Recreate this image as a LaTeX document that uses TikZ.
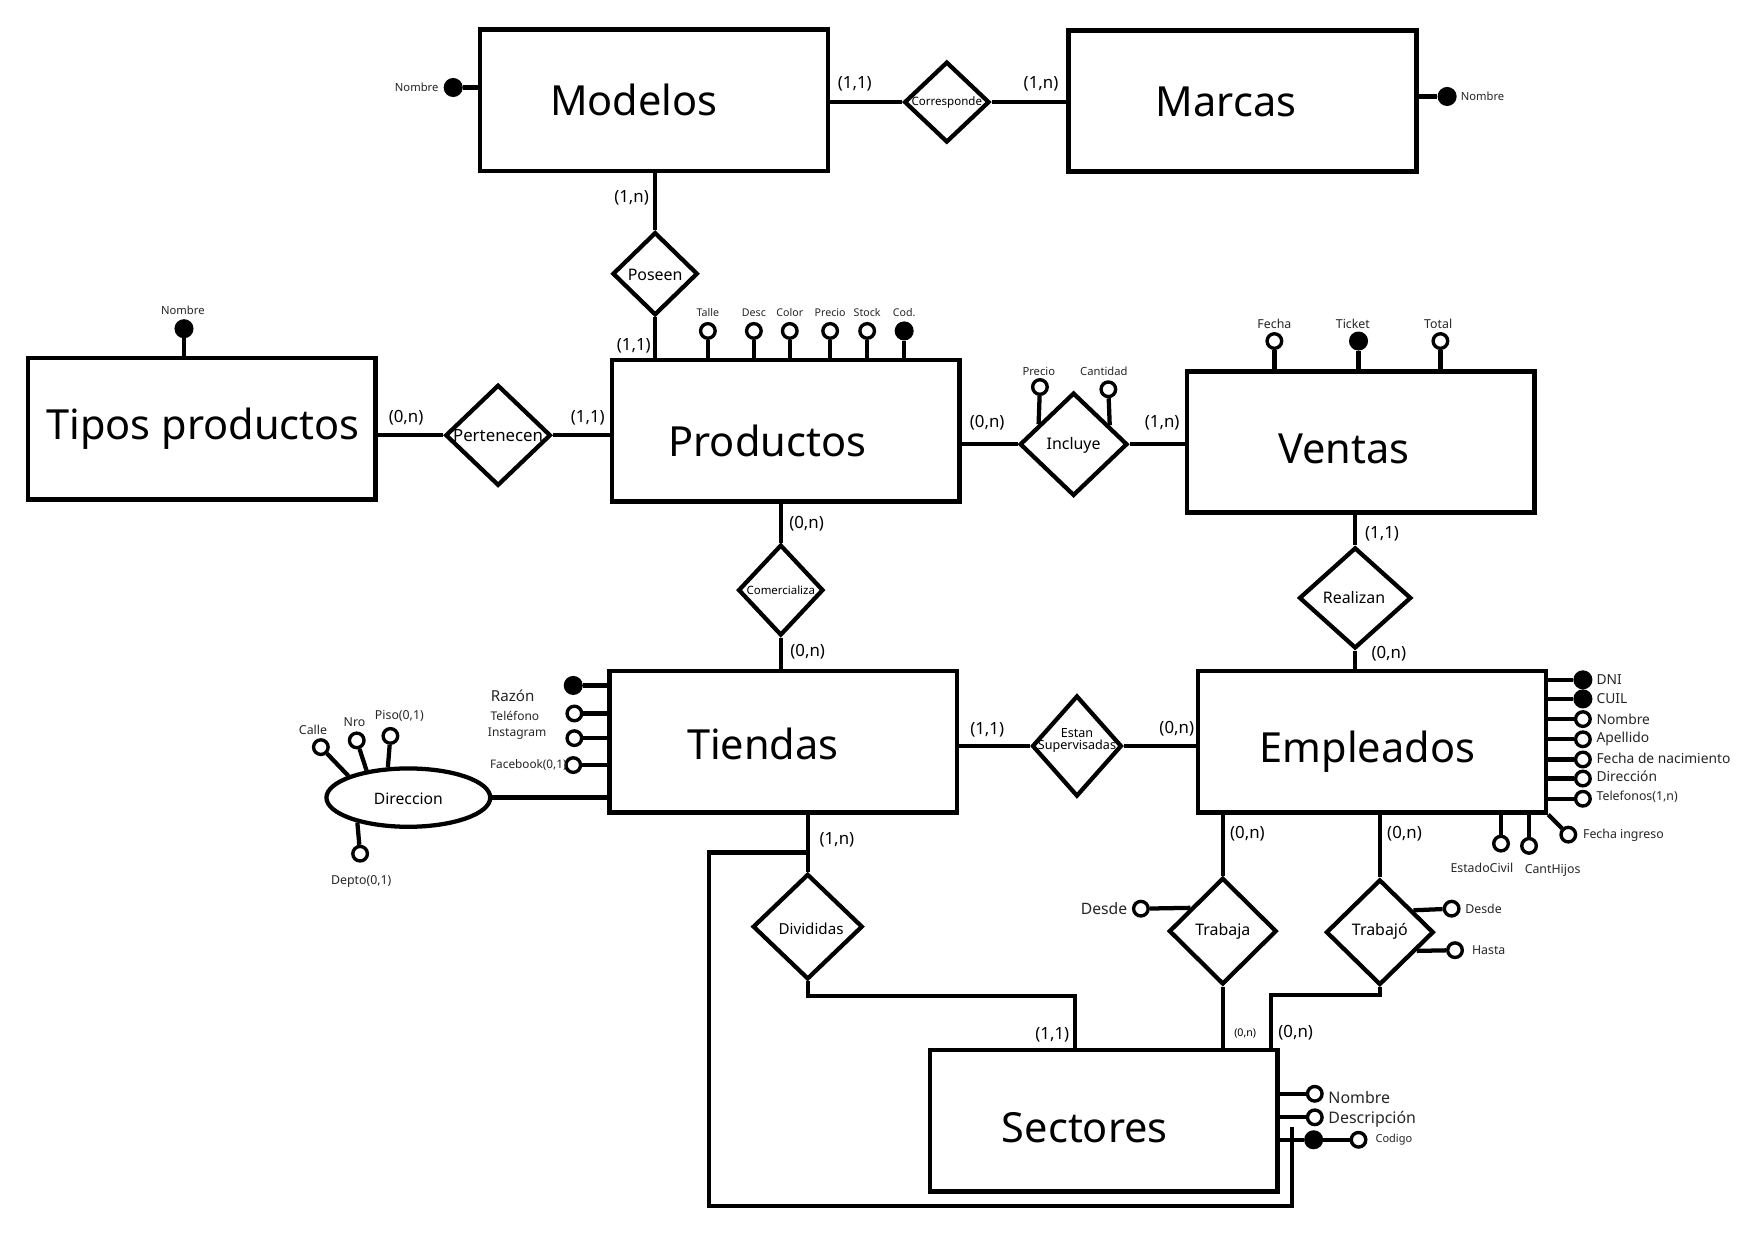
\documentclass[tikz,border=0pt]{standalone}
\usepackage{fontspec}
\setmainfont{Noto Sans}
\usetikzlibrary{shapes.geometric,calc}
\newcommand{\fs}[1]{\fontsize{#1}{#1}\selectfont}
\begin{document}
\begin{tikzpicture}[x=1pt,y=-1pt,
  ent/.style={draw, line width=4.2pt, minimum width=310pt, minimum height=126pt, inner sep=0pt},
  entname/.style={font=\fs{37}, inner sep=0pt},
  rel/.style={draw, diamond, line width=3.8pt, inner sep=0pt},
  reltext/.style={font=\fs{14.2}, inner sep=0pt, align=center},
  ln/.style={line width=3.8pt},
  att/.style={circle, draw, line width=3pt, fill=white, minimum size=13pt, inner sep=0pt},
  katt/.style={circle, fill=black, minimum size=17pt, inner sep=0pt},
  card/.style={font=\fs{15}, inner sep=0pt},
  lab/.style={inner sep=0pt, text=black!85},
]
\useasboundingbox[fill=white] (0,0) rectangle (1568,1101);

% ---------- entities ----------
\node[ent] (modelos) at (583,89.5) {};
\node[entname] (modelosT) at (565,89) {Modelos};
\node[ent] (marcas) at (1107.5,90) {};
\node[entname] (marcasT) at (1093,91) {Marcas};
\node[ent] (tipos) at (180,382) {};
\node[entname] (tiposT) at (181,382) {Tipos productos};
\node[ent] (productos) at (700.5,384) {};
\node[entname] (productosT) at (684,393) {Productos};
\node[ent] (ventas) at (1213,394) {};
\node[entname] (ventasT) at (1198,400) {Ventas};
\node[ent] (tiendas) at (698,661) {};
\node[entname] (tiendasT) at (680,663) {Tiendas};
\node[ent] (empleados) at (1223,661) {};
\node[entname] (empleadosT) at (1219,670) {Empleados};
\node[ent] (sectores) at (984,999) {};
\node[entname] (sectoresT) at (967,1005) {Sectores};

% ---------- relationships ----------
\node[rel, minimum width=76pt, minimum height=72pt] (corr) at (844,91) {};
\node[reltext, font=\fs{10.3}] (corrT) at (844,91) {Corresponde};
\node[rel, minimum width=76pt, minimum height=74pt] (poseen) at (584,244) {};
\node[reltext] (poseenT) at (584,245) {Poseen};
\node[rel, minimum width=94pt, minimum height=90pt] (pert) at (444,388) {};
\node[reltext, font=\fs{15}] (pertT) at (444,388) {Pertenecen};
\node[rel, minimum width=96pt, minimum height=92pt] (incl) at (957,396) {};
\node[reltext] (inclT) at (957,397) {Incluye};
\node[rel, minimum width=76pt, minimum height=81pt] (comer) at (696,526) {};
\node[reltext, font=\fs{10.2}] (comerT) at (696,526) {Comercializa};
\node[rel, minimum width=100pt, minimum height=90pt] (real) at (1208,533) {};
\node[reltext] (realT) at (1207,533) {Realizan};
\node[rel, minimum width=80pt, minimum height=90pt] (estan) at (960,665) {};
\node[reltext, font=\fs{11.2}] (estanT) at (960,660) {Estan\\[0pt]Supervisadas};
\node[rel, minimum width=98pt, minimum height=94pt] (divid) at (720,826) {};
\node[reltext, font=\fs{13.5}] (dividT) at (723,828) {Divididas};
\node[rel, minimum width=96pt, minimum height=95pt] (trabaja) at (1090,830) {};
\node[reltext] (trabajaT) at (1090,830) {Trabaja};
\node[rel, minimum width=96pt, minimum height=94pt] (trabajo) at (1230,831) {};
\node[reltext] (trabajoT) at (1230,830) {Trabajó};

% ---------- connectors ----------
\draw[ln] (modelos.east |- corr.west) -- (corr.west);
\draw[ln] (corr.east) -- (corr.east -| marcas.west);
\draw[ln] (poseen.north) -- (poseen.north |- modelos.south);
\draw[ln] (poseen.south) -- (poseen.south |- productos.north);
\draw[ln] (tipos.east |- pert.west) -- (pert.west);
\draw[ln] (pert.east) -- (pert.east -| productos.west);
\draw[ln] (productos.east |- incl.west) -- (incl.west);
\draw[ln] (incl.east) -- (incl.east -| ventas.west);
\draw[ln] (real.north) -- (real.north |- ventas.south);
\draw[ln] (real.south) -- (real.south |- empleados.north);
\draw[ln] (comer.north) -- (comer.north |- productos.south);
\draw[ln] (comer.south) -- (comer.south |- tiendas.north);
\draw[ln] (tiendas.east |- estan.west) -- (estan.west);
\draw[ln] (estan.east) -- (estan.east -| empleados.west);
\draw[ln] (divid.north) -- (divid.north |- tiendas.south);
\coordinate (dsx) at (958,888);
\draw[ln] (divid.south) |- (dsx) -- (dsx |- sectores.north);
\draw[ln] (trabaja.north) -- (trabaja.north |- empleados.south);
\draw[ln] (trabaja.south) -- (trabaja.south |- sectores.north);
\draw[ln] (trabajo.north) -- (trabajo.north |- empleados.south);
\coordinate (tsx) at (1133,887);
\draw[ln] (trabajo.south) |- (tsx) -- (tsx |- sectores.north);
\coordinate (lp1) at (632,760);
\coordinate (lp2) at (1152,1075);
\coordinate (lp3) at (1152,1005);
\draw[ln] (divid.north |- lp1) -- (lp1) -- (lp1 |- lp2) -- (lp2) -- (lp3);

% ---------- cardinalities ----------
\node[card] (c1) at (762,75) {(1,1)};
\node[card] (c2) at (928,75) {(1,n)};
\node[card] (c3) at (563,176) {(1,n)};
\node[card] (c4) at (565,308) {(1,1)};
\node[card] (c5) at (362,372) {(0,n)};
\node[card] (c6) at (524,372) {(1,1)};
\node[card] (c7) at (880,377) {(0,n)};
\node[card] (c8) at (1036,377) {(1,n)};
\node[card] (c9) at (719,467) {(0,n)};
\node[card] (c10) at (720,581) {(0,n)};
\node[card] (c11) at (1232,476) {(1,1)};
\node[card] (c12) at (1238,583) {(0,n)};
\node[card] (c13) at (880,651) {(1,1)};
\node[card] (c14) at (1049,650) {(0,n)};
\node[card] (c15) at (746,749) {(1,n)};
\node[card] (c16) at (1112,743) {(0,n)};
\node[card] (c17) at (1252,743) {(0,n)};
\node[card] (c18) at (938,922) {(1,1)};
\node[card, font=\fs{9.5}] (c19) at (1110,921) {(0,n)};
\node[card] (c20) at (1155,921) {(0,n)};

% ---------- attributes: Modelos, Marcas, Tipos ----------
\node[katt] (mnom) at (404,78) {};
\draw[ln] (mnom) -- (mnom -| modelos.west);
\node[lab, font=\fs{10}, anchor=east] (mnomT) at (391,78) {Nombre};
\node[katt] (bnom) at (1290,86) {};
\draw[ln] (bnom) -- (bnom -| marcas.east);
\node[lab, font=\fs{10}, anchor=west] (bnomT) at (1302,86) {Nombre};
\node[katt] (tnom) at (164,293) {};
\draw[ln] (tnom) -- (tnom |- tipos.north);
\node[lab, font=\fs{10}] (tnomT) at (163,277) {Nombre};

% ---------- attributes: Productos ----------
\foreach \n/\x/\t in {pa1/631/Talle, pa2/672/Desc, pa3/704/Color, pa4/740/Precio, pa5/773/Stock}{
  \node[att] (\n) at (\x,295) {};
  \draw[ln] (\n) -- (\n |- productos.north);
  \node[lab, font=\fs{9.5}] (\n T) at (\x,279) {\t};
}
\node[katt] (pa6) at (806,295) {};
\draw[ln] (pa6) -- (pa6 |- productos.north);
\node[lab, font=\fs{9.5}] (pa6T) at (806,279) {Cod.};

% ---------- attributes: Incluye ----------
\node[att] (ip) at (927,345) {};
\draw[ln] (ip) -- ($(incl.north)!0.625!(incl.west)$);
\node[lab, font=\fs{10}] (ipT) at (926,331) {Precio};
\node[att] (ic) at (988,347) {};
\draw[ln] (ic) -- ($(incl.north)!0.646!(incl.east)$);
\node[lab, font=\fs{10}] (icT) at (984,331) {Cantidad};

% ---------- attributes: Ventas ----------
\node[att] (vf) at (1136,304) {};
\draw[ln] (vf) -- (vf |- ventas.north);
\node[lab, font=\fs{11}] (vfT) at (1136,289) {Fecha};
\node[katt] (vt) at (1211,304) {};
\draw[ln] (vt) -- (vt |- ventas.north);
\node[lab, font=\fs{11}] (vtT) at (1206,289) {Ticket};
\node[att] (vo) at (1284,304) {};
\draw[ln] (vo) -- (vo |- ventas.north);
\node[lab, font=\fs{11}] (voT) at (1282,289) {Total};

% ---------- attributes: Tiendas ----------
\node[katt] (tr) at (511,611) {};
\draw[ln] (tr) -- (tr -| tiendas.west);
\node[lab, font=\fs{13.5}] (trT) at (457,620) {Razón};
\node[att] (tt) at (512,636) {};
\draw[ln] (tt) -- (tt -| tiendas.west);
\node[lab, font=\fs{10.7}] (ttT) at (459,638) {Teléfono};
\node[att] (ti) at (512,658) {};
\draw[ln] (ti) -- (ti -| tiendas.west);
\node[lab, font=\fs{10.7}] (tiT) at (461,654) {Instagram};
\node[att] (tf) at (511,682) {};
\draw[ln] (tf) -- (tf -| tiendas.west);
\node[lab, font=\fs{10.5}] (tfT) at (471,682) {Facebook(0,1)};

\node[ellipse, draw, line width=3.8pt, minimum width=146pt, minimum height=52pt, inner sep=0pt] (dir) at (364,711) {};
\node[reltext, font=\fs{14}] (dirT) at (364,712) {Direccion};
\draw[ln] (dir.east) -- (dir.east -| tiendas.west);
\node[att] (dc) at (286,666) {};
\draw[ln] (dc) -- (dir.160);
\node[lab, font=\fs{11}] (dcT) at (279,651) {Calle};
\node[att] (dn) at (318,660) {};
\draw[ln] (dn) -- (dir.147);
\node[lab, font=\fs{11}] (dnT) at (316,644) {Nro};
\node[att] (dp) at (348,656) {};
\draw[ln] (dp) -- (dir.124);
\node[lab, font=\fs{11}] (dpT) at (356,638) {Piso(0,1)};
\node[att] (dd) at (321,761) {};
\draw[ln] (dd) -- (dir.206);
\node[lab, font=\fs{11}] (ddT) at (322,786) {Depto(0,1)};

% ---------- attributes: Empleados ----------
\node[katt] (e1) at (1411,606) {};
\node[katt] (e2) at (1411,623) {};
\foreach \n/\y in {e3/641, e4/659, e5/677, e6/694, e7/712}{
  \node[att] (\n) at (1411,\y) {};
}
\foreach \n in {e1,e2,e3,e4,e5,e6,e7}{
  \draw[ln] (\n) -- (\n -| empleados.east);
}
\node[lab, font=\fs{12.3}, anchor=west] (e1T) at (1423,606) {DNI};
\node[lab, font=\fs{12.3}, anchor=west] (e2T) at (1423,623) {CUIL};
\node[lab, font=\fs{12.3}, anchor=west] (e3T) at (1423,641) {Nombre};
\node[lab, font=\fs{12.3}, anchor=west] (e4T) at (1423,659) {Apellido};
\node[lab, font=\fs{12.3}, anchor=west] (e5T) at (1423,676) {Fecha de nacimiento};
\node[lab, font=\fs{12.3}, anchor=west] (e6T) at (1423,692) {Dirección};
\node[lab, font=\fs{11}, anchor=west] (e7T) at (1423,710) {Telefonos(1,n)};
\node[att] (eec) at (1338,752) {};
\draw[ln] (eec) -- (eec |- empleados.south);
\node[lab, font=\fs{11}] (eecT) at (1321,774) {EstadoCivil};
\node[att] (ech) at (1363,754) {};
\draw[ln] (ech) -- (ech |- empleados.south);
\node[lab, font=\fs{11}] (echT) at (1384,776) {CantHijos};
\node[att] (efi) at (1398,744) {};
\draw[ln] (efi) -- (empleados.south east);
\node[lab, font=\fs{11}, anchor=west] (efiT) at (1411,745) {Fecha ingreso};

% ---------- attributes: Trabaja / Trabajo ----------
\node[att] (tjd) at (1017,810) {};
\draw[ln] (tjd) -- ($(trabaja.west)!0.42!(trabaja.north)$);
\node[lab, font=\fs{14}, anchor=east] (tjdT) at (1005,810) {Desde};
\node[att] (tod) at (1294,810) {};
\draw[ln] (tod) -- ($(trabajo.east)!0.40!(trabajo.north)$);
\node[lab, font=\fs{11}, anchor=west] (todT) at (1306,810) {Desde};
\node[att] (toh) at (1297,847) {};
\draw[ln] (toh) -- ($(trabajo.east)!0.34!(trabajo.south)$);
\node[lab, font=\fs{11}, anchor=west] (tohT) at (1312,847) {Hasta};

% ---------- attributes: Sectores ----------
\node[att] (sn) at (1172,975) {};
\draw[ln] (sn) -- (sn -| sectores.east);
\node[lab, font=\fs{14.2}, anchor=west] (snT) at (1184,978) {Nombre};
\node[att] (sd) at (1172,996) {};
\draw[ln] (sd) -- (sd -| sectores.east);
\node[lab, font=\fs{14.2}, anchor=west] (sdT) at (1184,998) {Descripción};
\node[katt] (sk) at (1171,1016) {};
\draw[ln] (sk) -- (sk -| sectores.east);
\node[att] (sc) at (1211,1016) {};
\draw[ln] (sk) -- (sc);
\node[lab, font=\fs{9.8}, anchor=west] (scT) at (1226,1016) {Codigo};
\end{tikzpicture}
\end{document}
